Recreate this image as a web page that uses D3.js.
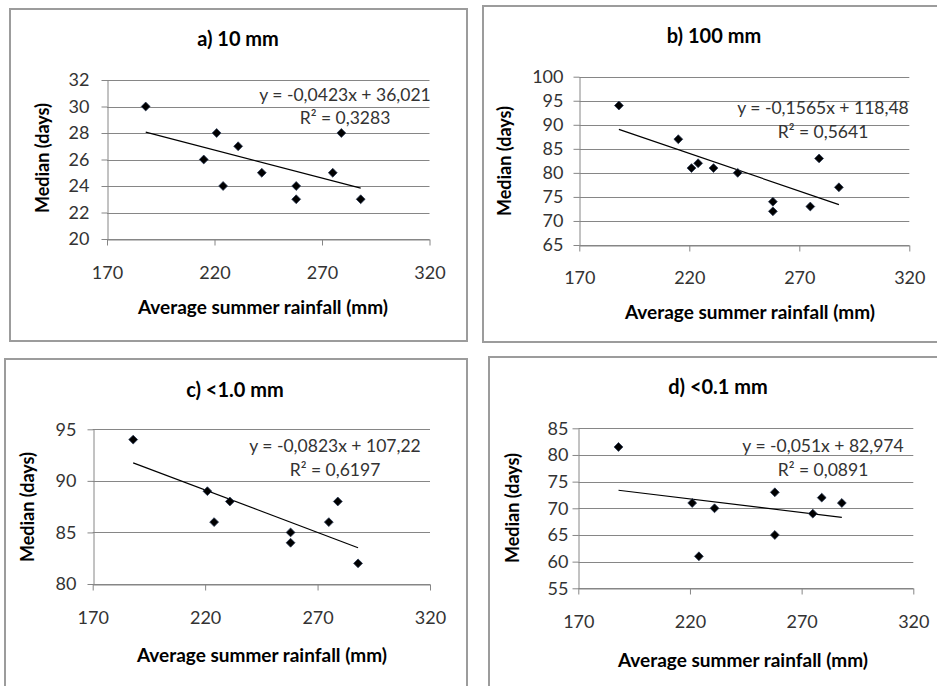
<!DOCTYPE html>
<html>
<head>
<meta charset="utf-8">
<script src="https://cdn.jsdelivr.net/npm/d3@7"></script>
<style>
  body { margin: 0; background: #fff; }
  svg { display: block; font-family: Lato, "Open Sans", sans-serif; }
</style>
</head>
<body>
<div class="plot"></div>
<script>
// DATA
var rainfallAll = [188, 215, 221, 224, 231, 242, 258, 258, 275, 279, 288];
var median10mm = [30, 26, 28, 24, 27, 25, 24, 23, 25, 28, 23];
var median100mm = [94, 87, 81, 82, 81, 80, 74, 72, 73, 83, 77];

var rainfallLow = [188, 221, 224, 231, 258, 258, 275, 279, 288];
var medianLt1mm = [94, 89, 86, 88, 85, 84, 86, 88, 82];
var medianLt01mm = [81.5, 71, 61, 70, 73, 65, 69, 72, 71];

var xTicks = [170, 220, 270, 320];
var yTicksA = [20, 22, 24, 26, 28, 30, 32];
var yTicksB = [65, 70, 75, 80, 85, 90, 95, 100];
var yTicksC = [80, 85, 90, 95];
var yTicksD = [55, 60, 65, 70, 75, 80, 85];

var titles = ["a) 10 mm", "b) 100 mm", "c) <1.0 mm", "d) <0.1 mm"];
var slopes = [-0.0423, -0.1565, -0.0823, -0.051];
var intercepts = [36.021, 118.48, 107.22, 82.974];
var eqLabels = ["y = -0,0423x + 36,021", "y = -0,1565x + 118,48", "y = -0,0823x + 107,22", "y = -0,051x + 82,974"];
var r2Labels = ["R\u00b2 = 0,3283", "R\u00b2 = 0,5641", "R\u00b2 = 0,6197", "R\u00b2 = 0,0891"];

var w = 937;
var h = 686;

var svg = d3.select(".plot").append("svg").attr("width", w).attr("height", h);

// LAYOUT for each panel
var panels = [
  { xs: rainfallAll, ys: median10mm, yTicks: yTicksA,
    frame: [10, 9, 467, 341], plot: [107, 429.5, 80, 239], pad: 12,
    title: [238, 39], yLab: [43, 158], xTickY: 272, xTitle: [263, 307], eq: [345, 95], r2: [345, 118] },
  { xs: rainfallAll, ys: median100mm, yTicks: yTicksB,
    frame: [483, 6, 950, 342], plot: [579.3, 909.3, 76.7, 245], pad: 10,
    title: [714, 36], yLab: [505, 161], xTickY: 277, xTitle: [750, 312], eq: [823, 108], r2: [823, 132] },
  { xs: rainfallLow, ys: medianLt1mm, yTicks: yTicksC,
    frame: [5, 359, 467, 700], plot: [92.7, 430, 429.3, 584], pad: 11,
    title: [235, 390], yLab: [28, 507], xTickY: 617, xTitle: [262, 655], eq: [335, 446], r2: [335, 470] },
  { xs: rainfallLow, ys: medianLt01mm, yTicks: yTicksD,
    frame: [489, 357, 950, 700], plot: [578.3, 913.3, 428.3, 588.3], pad: 4,
    title: [718, 387], yLab: [513, 508], xTickY: 621, xTitle: [743, 660], eq: [823, 446], r2: [823, 470] }
];

panels.forEach(function (p, i) {
  drawPanel(p, i);
});

function drawPanel(p, i) {
  var g = svg.append("g");

  // frame
  g.append("rect")
    .attr("x", p.frame[0])
    .attr("y", p.frame[1])
    .attr("width", p.frame[2] - p.frame[0])
    .attr("height", p.frame[3] - p.frame[1])
    .attr("fill", "none")
    .attr("stroke", "#9c9c9c")
    .attr("stroke-width", 2);

  // SCALES
  var xScale = d3.scaleLinear()
    .domain([xTicks[0], xTicks[xTicks.length - 1]])
    .range([p.plot[0], p.plot[1]]);
  var yScale = d3.scaleLinear()
    .domain([p.yTicks[0], p.yTicks[p.yTicks.length - 1]])
    .range([p.plot[3], p.plot[2]]);

  // gridlines
  g.selectAll(".grid")
    .data(p.yTicks)
    .enter()
    .append("line")
    .attr("x1", p.plot[0])
    .attr("x2", p.plot[1])
    .attr("y1", function (d) { return Math.round(yScale(d)) + 0.5; })
    .attr("y2", function (d) { return Math.round(yScale(d)) + 0.5; })
    .attr("stroke", "#868686")
    .attr("stroke-width", 1);

  // AXES
  var yAxis = d3.axisLeft(yScale)
    .tickValues(p.yTicks)
    .tickSize(6)
    .tickSizeOuter(0)
    .tickPadding(p.pad);
  var xAxis = d3.axisBottom(xScale)
    .tickValues(xTicks)
    .tickSize(6)
    .tickSizeOuter(0);

  var ya = g.append("g")
    .attr("transform", "translate(" + Math.round(p.plot[0]) + ".5,0)")
    .call(yAxis);
  var xa = g.append("g")
    .attr("transform", "translate(0," + Math.round(p.plot[3]) + ".5)")
    .call(xAxis);

  [ya, xa].forEach(function (a) {
    a.select(".domain").attr("stroke", "#868686");
    a.selectAll(".tick line").attr("stroke", "#868686");
    a.selectAll("text")
      .attr("font-family", "Lato, sans-serif")
      .attr("font-size", "18px")
      .attr("fill", "#333");
  });
  xa.selectAll("text")
    .attr("y", p.xTickY - p.plot[3])
    .attr("dy", "0.35em");

  // trend line
  var xMin = d3.min(p.xs), xMax = d3.max(p.xs);
  g.append("line")
    .attr("x1", xScale(xMin))
    .attr("y1", yScale(slopes[i] * xMin + intercepts[i]))
    .attr("x2", xScale(xMax))
    .attr("y2", yScale(slopes[i] * xMax + intercepts[i]))
    .attr("stroke", "#000")
    .attr("stroke-width", 1.2);

  // DOTS
  var pts = p.xs.map(function (x, k) { return [x, p.ys[k]]; });
  g.selectAll(".pt")
    .data(pts)
    .enter()
    .append("path")
    .attr("d", d3.symbol(d3.symbolDiamond2, 50))
    .attr("transform", function (d) {
      return "translate(" + xScale(d[0]) + "," + yScale(d[1]) + ")";
    })
    .attr("fill", "#000")
    .attr("stroke", "#2b3a55")
    .attr("stroke-width", 0.8);

  // LABELS
  g.append("text")
    .attr("x", p.title[0])
    .attr("y", p.title[1])
    .attr("dy", "0.35em")
    .attr("text-anchor", "middle")
    .attr("font-size", "20px")
    .attr("font-weight", "bold")
    .text(titles[i]);

  g.append("text")
    .attr("transform", "translate(" + p.yLab[0] + "," + p.yLab[1] + ") rotate(-90)")
    .attr("dy", "0.35em")
    .attr("text-anchor", "middle")
    .attr("font-size", "18px")
    .attr("font-weight", "bold")
    .text("Median (days)");

  g.append("text")
    .attr("x", p.xTitle[0])
    .attr("y", p.xTitle[1])
    .attr("dy", "0.35em")
    .attr("text-anchor", "middle")
    .attr("font-size", "19px")
    .attr("font-weight", "bold")
    .text("Average summer rainfall (mm)");

  g.append("text")
    .attr("x", p.eq[0])
    .attr("y", p.eq[1])
    .attr("dy", "0.35em")
    .attr("text-anchor", "middle")
    .attr("font-size", "17.5px")
    .attr("fill", "#333")
    .text(eqLabels[i]);

  g.append("text")
    .attr("x", p.r2[0])
    .attr("y", p.r2[1])
    .attr("dy", "0.35em")
    .attr("text-anchor", "middle")
    .attr("font-size", "17.5px")
    .attr("fill", "#333")
    .text(r2Labels[i]);
}
</script>
</body>
</html>
